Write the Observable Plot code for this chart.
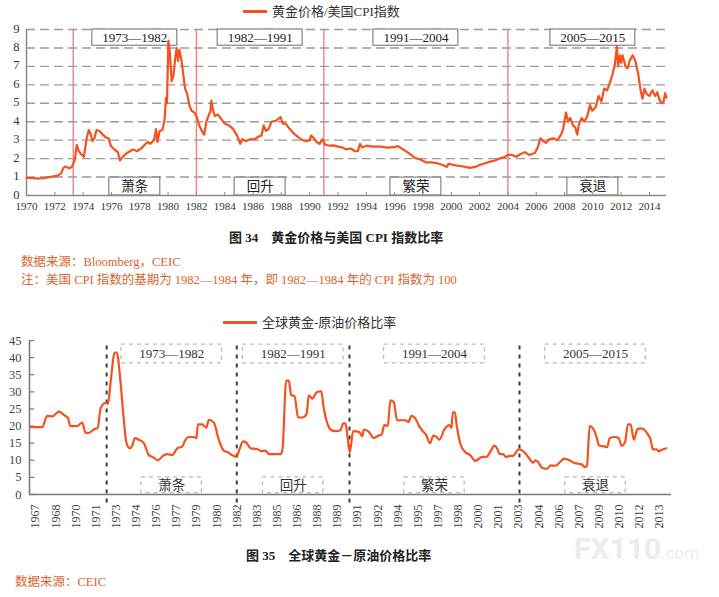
<!DOCTYPE html>
<html><head><meta charset="utf-8">
<script src="https://cdn.jsdelivr.net/npm/d3@7"></script>
<script src="https://cdn.jsdelivr.net/npm/@observablehq/plot@0.6"></script>
<style>
body{margin:0;background:#fff;}
#page{position:relative;width:719px;height:597px;overflow:hidden;font-family:"Liberation Serif",serif;}
.abs{position:absolute;white-space:nowrap;line-height:1;}
.src{color:#d4652f;font-size:12.5px;font-family:"Liberation Serif","Noto Sans CJK SC",serif;}
.cap{color:#222;font-weight:bold;font-size:13px;font-family:"Liberation Serif","Noto Sans CJK SC",serif;}
.leg{display:flex;align-items:center;font-size:13px;color:#333;font-family:"Liberation Serif","Noto Sans CJK SC",serif;}
.leg i{display:inline-block;height:3px;background:#f4511e;margin-right:5px;}
svg{position:absolute;left:0;}
</style></head><body><div id="page"></div>
<script>
// ---- Chart 34: gold price / US CPI ----
const topYears = [1970.0,1970.5,1970.9,1971.3,1971.8,1972.2,1972.45,1972.6,1972.75,1973.0,1973.2,1973.4,1973.55,1973.7,1973.9,1974.05,1974.25,1974.4,1974.55,1974.65,1974.8,1974.95,1975.15,1975.4,1975.6,1975.8,1975.95,1976.2,1976.45,1976.6,1976.75,1977.0,1977.3,1977.55,1977.8,1978.1,1978.35,1978.55,1978.75,1979.0,1979.15,1979.25,1979.4,1979.6,1979.75,1979.85,1979.92,1980.02,1980.12,1980.25,1980.38,1980.5,1980.6,1980.7,1980.8,1980.95,1981.1,1981.2,1981.35,1981.5,1981.65,1981.85,1982.0,1982.2,1982.45,1982.55,1982.7,1982.85,1983.0,1983.05,1983.15,1983.3,1983.5,1983.8,1984.0,1984.3,1984.6,1984.9,1985.1,1985.25,1985.5,1985.8,1986.1,1986.4,1986.6,1986.75,1986.9,1987.1,1987.3,1987.6,1987.95,1988.1,1988.3,1988.6,1988.9,1989.2,1989.5,1989.8,1990.0,1990.1,1990.3,1990.5,1990.7,1990.9,1991.1,1991.4,1991.7,1992.0,1992.3,1992.6,1992.9,1993.2,1993.4,1993.55,1993.7,1994.0,1994.5,1995.0,1995.5,1996.0,1996.2,1996.6,1997.0,1997.4,1997.8,1998.2,1998.6,1999.0,1999.4,1999.7,1999.8,2000.2,2000.6,2001.0,2001.3,2001.7,2002.0,2002.4,2002.8,2003.1,2003.4,2003.8,2004.0,2004.3,2004.6,2004.9,2005.2,2005.5,2005.9,2006.1,2006.3,2006.5,2006.7,2006.9,2007.2,2007.5,2007.75,2007.9,2008.1,2008.25,2008.4,2008.6,2008.75,2008.9,2009.0,2009.2,2009.4,2009.6,2009.8,2009.95,2010.2,2010.4,2010.6,2010.8,2011.0,2011.2,2011.4,2011.55,2011.7,2011.78,2011.9,2012.0,2012.1,2012.3,2012.45,2012.6,2012.8,2013.0,2013.2,2013.35,2013.5,2013.65,2013.8,2014.0,2014.2,2014.4,2014.55,2014.7,2014.85,2015.0,2015.1,2015.2];
const topRatio = [0.95,0.94,0.92,0.96,1.02,1.08,1.2,1.5,1.58,1.48,1.55,1.9,2.75,2.4,2.2,2.1,3.1,3.55,3.3,2.95,3.1,3.55,3.5,3.3,3.15,3.1,2.7,2.5,2.35,1.9,2.05,2.25,2.4,2.5,2.4,2.55,2.75,2.9,2.8,3.0,3.6,2.9,3.5,3.55,4.1,5.3,5.0,8.4,7.8,6.2,6.5,7.4,8.0,7.3,7.9,7.3,6.4,5.8,5.5,4.9,4.6,4.5,4.3,3.8,3.4,3.3,4.0,4.3,4.6,5.15,4.7,4.3,4.4,4.1,3.9,3.8,3.6,3.2,2.8,3.05,2.95,3.05,3.05,3.2,3.25,3.8,3.5,3.6,4.0,4.05,4.25,3.9,3.9,3.6,3.35,3.15,3.0,2.95,3.0,3.25,3.1,2.9,2.8,3.05,2.75,2.7,2.72,2.65,2.6,2.5,2.55,2.4,2.4,2.8,2.6,2.7,2.65,2.65,2.6,2.62,2.68,2.5,2.3,2.05,1.95,1.8,1.8,1.75,1.65,1.55,1.72,1.65,1.6,1.55,1.5,1.55,1.65,1.75,1.85,1.9,2.0,2.1,2.2,2.2,2.1,2.25,2.35,2.2,2.3,2.6,3.1,2.95,2.85,3.05,3.1,3.0,3.3,3.6,4.5,4.0,4.2,3.8,3.7,3.3,3.8,4.2,4.0,4.3,4.9,4.6,4.8,5.4,5.1,5.8,5.7,6.1,6.6,7.1,8.1,7.0,7.6,7.2,7.6,7.0,6.9,7.3,7.6,7.3,6.6,5.8,5.25,5.8,5.5,5.4,5.7,5.4,5.6,5.2,5.0,5.1,5.55,5.3];
const topDividers = [1973.3, 1982, 1991, 2004];
const topXTicks = [1970,1972,1974,1976,1978,1980,1982,1984,1986,1988,1990,1992,1994,1996,1998,2000,2002,2004,2006,2008,2010,2012,2014];
const topYTicks = [0,1,2,3,4,5,6,7,8,9];
const periodLabels = ["1973—1982","1982—1991","1991—2004","2005—2015"];
const phaseLabels = ["萧条","回升","繁荣","衰退"];

// ---- Chart 35: gold / crude oil ----
const oilYears = [1966.63,1967.5,1967.87,1968.24,1968.74,1969.2,1969.4,1969.6,1970.1,1970.48,1970.73,1970.97,1971.35,1971.64,1971.84,1972.2,1972.4,1972.6,1972.9,1973.05,1973.33,1973.53,1973.78,1974.03,1974.2,1974.4,1974.7,1975.07,1975.45,1975.8,1976.1,1976.56,1976.85,1977.18,1977.56,1977.93,1978.18,1978.43,1978.8,1979.0,1979.1,1979.42,1979.72,1979.92,1980.29,1980.66,1981.03,1981.36,1981.65,1981.98,1982.18,1982.47,1982.7,1983.02,1983.52,1983.8,1984.14,1984.39,1985.26,1985.4,1985.68,1985.88,1986.05,1986.3,1986.57,1986.87,1987.2,1987.37,1987.62,1987.94,1988.29,1988.49,1988.73,1988.98,1989.35,1989.73,1989.93,1990.1,1990.22,1990.42,1990.67,1991.1,1991.35,1991.47,1991.85,1992.2,1992.6,1992.8,1993.0,1993.25,1993.45,1993.7,1993.95,1994.55,1994.8,1995.0,1995.25,1995.6,1995.87,1996.1,1996.4,1996.65,1996.9,1997.1,1997.47,1997.85,1998.0,1998.1,1998.25,1998.4,1998.65,1999.0,1999.4,1999.8,2000.05,2000.3,2000.6,2000.9,2001.2,2001.4,2001.6,2001.85,2002.05,2002.4,2002.6,2003.0,2003.4,2003.75,2004.1,2004.25,2004.45,2004.75,2005.1,2005.4,2005.75,2006.1,2006.4,2006.8,2007.1,2007.45,2007.7,2007.95,2008.1,2008.3,2008.6,2008.8,2009.0,2009.45,2009.6,2009.8,2010.2,2010.45,2010.7,2010.95,2011.15,2011.35,2011.6,2011.85,2012.1,2012.35,2012.65,2012.85,2013.0,2013.3,2013.45,2013.65,2014.0];
const oilRatio = [19.7,19.7,23,22.8,24.2,23,22.5,20,20,21,18,18,19,19.5,25,26.8,26.5,33,41.5,41.5,33,24,15,13.5,14.2,16.5,16,15,11.5,10.8,10,11.5,11.8,11.5,13.5,14,16,16.8,16.8,16.5,20.5,20.5,19.5,21.8,21,16,12.8,12.3,11.5,11,13,15.5,15.2,13.5,13.3,12.7,12.8,11.8,11.8,13,33.3,33.3,29,28.8,22.5,22.5,23.5,29,28,29.8,30.2,25,21,19,18.5,18.8,20.8,20.8,18,12.3,18.5,18.3,17,19,18.3,16.5,17.3,17.6,20.3,20,27.5,27,21.7,21.7,21.2,23,22.5,20,18.5,17.5,15,17.2,16.8,16,19,20.3,19.5,24,24,20,15,12.5,11.5,9.8,10.5,11,11,12.5,14.3,13.5,11.8,11.8,11,11.3,11.3,13.2,12.5,10.8,9.3,10,9.5,7.8,7.5,8.5,8.4,9.5,10.5,10,9.3,9,8.8,8,8.5,20,19,17,14.3,14,13.8,16.5,16.8,16.5,14.2,15.5,20.5,20.5,16,19,19.3,19,17.5,16,13.2,13.2,12.6,13,13.5];
const oilDividers = [1972.3, 1982, 1990.4, 2003.07];
const oilTickLabels = ["1967","1968","1970","1971","1973","1974","1976","1977","1979","1980","1982","1983","1985","1986","1988","1989","1991","1992","1994","1995","1997","1998","2000","2001","2003","2004","2006","2007","2009","2010","2012","2013"];
const oilYTicks = [0,5,10,15,20,25,30,35,40,45];

const page = document.getElementById("page");
const LINE = "#f4511e";
const SERIF = "Liberation Serif";
const CJK = "Noto Sans CJK SC";
const mids = b => b.slice(0,-1).map((v,i)=>(v+b[i+1])/2);

// ---------- top chart ----------
const topData = topYears.map((t,i)=>({t, v: topRatio[i]}));
const topX = [1970, 2015.2];
const topCenters = mids([...topDividers, 2016]);
const topChart = Plot.plot({
  width: 719, height: 215,
  marginLeft: 26, marginRight: 53, marginTop: 29, marginBottom: 20,
  style: {fontFamily: SERIF, fontSize: "12px", color: "#333", background: "transparent"},
  x: {domain: topX, label: null},
  y: {domain: [0, 9], label: null},
  marks: [
    Plot.ruleY(topYTicks.filter(d => d > 0), {stroke: "#9c9c9c", strokeWidth: 1.4, strokeDasharray: "9,5"}),
    Plot.rect(periodLabels, {x1: (d,i) => topCenters[i] - 3, x2: (d,i) => topCenters[i] + 3, y1: () => 8.12, y2: () => 9, fill: "white", stroke: "#7a7a7a", strokeWidth: 1.1}),
    Plot.rect(phaseLabels, {x1: (d,i) => topCenters[i] - 1.8, x2: (d,i) => topCenters[i] + 1.8, y1: () => 0, y2: () => 0.97, fill: "white", stroke: "#7a7a7a", strokeWidth: 1.1}),
    Plot.ruleX(topDividers, {stroke: "#f27a7a", strokeWidth: 1.3}),
    Plot.ruleY([0], {stroke: "#8a8a8a", strokeWidth: 1.5}),
    Plot.ruleX([topX[0]], {stroke: "#8a8a8a", strokeWidth: 1.5}),
    Plot.ruleX(topXTicks, {y1: () => 0, y2: () => 0.17, stroke: "#8a8a8a"}),
    Plot.line(topData, {x: "t", y: "v", stroke: LINE, strokeWidth: 2.2, strokeLinejoin: "round"}),
    Plot.text(periodLabels, {x: (d,i) => topCenters[i], y: () => 8.56, text: d => d, fontSize: 13, fill: "#222", fontFamily: SERIF}),
    Plot.text(phaseLabels, {x: (d,i) => topCenters[i], y: () => 0.48, text: d => d, fontSize: 13.5, fill: "#222", fontFamily: CJK}),
    Plot.axisY({ticks: topYTicks, label: null, tickSize: 0, tickPadding: 7, dy: -1, fontSize: 12.5, fontFamily: SERIF, fill: "#333"}),
    Plot.axisX({ticks: topXTicks, label: null, tickSize: 0, tickPadding: 7, tickFormat: d => String(d), fontSize: 11, fontFamily: SERIF, fill: "#333"})
  ]
});
topChart.style.top = "0px";
page.appendChild(topChart);

// ---------- bottom chart ----------
const oilData = oilYears.map((t,i)=>({t, v: oilRatio[i]}));
const oilX = [1966.55, 2014.4];
const oilTicks = oilTickLabels.map((s,i) => 1967 + 1.5 * i);
const oilLabelOf = new Map(oilTicks.map((t,i) => [t, oilTickLabels[i]]));
const oilCenters = mids([...oilDividers, oilX[1]]);
const oilChart = Plot.plot({
  width: 719, height: 210,
  marginLeft: 29, marginRight: 48, marginTop: 10, marginBottom: 46,
  style: {fontFamily: SERIF, fontSize: "12px", color: "#333", background: "transparent"},
  x: {domain: oilX, label: null},
  y: {domain: [0, 45], label: null},
  marks: [
    Plot.rect(periodLabels, {x1: (d,i) => oilCenters[i] - 3.75, x2: (d,i) => oilCenters[i] + 3.75, y1: () => 38.3, y2: () => 43.8, fill: "none", stroke: "#b4bcc0", strokeWidth: 1.3, strokeDasharray: "4,4"}),
    Plot.rect(phaseLabels, {x1: (d,i) => oilCenters[i] - 2.25, x2: (d,i) => oilCenters[i] + 2.25, y1: () => 0.4, y2: () => 5, fill: "none", stroke: "#b4bcc0", strokeWidth: 1.3, strokeDasharray: "4,4"}),
    Plot.ruleX(oilDividers, {y1: () => -2.5, y2: () => 44.3, stroke: "#3a3a3a", strokeWidth: 2, strokeDasharray: "4,5"}),
    Plot.ruleY([0], {stroke: "#7a7a7a", strokeWidth: 1.6}),
    Plot.ruleX([oilX[0]], {y1: () => 0, y2: () => 45, stroke: "#7a7a7a", strokeWidth: 1.6}),
    Plot.ruleY(oilYTicks, {x1: () => oilX[0], x2: () => oilX[0] + 0.4, stroke: "#7a7a7a", strokeWidth: 1.2}),
    Plot.line(oilData, {x: "t", y: "v", stroke: LINE, strokeWidth: 2.2, curve: "monotone-x", strokeLinejoin: "round"}),
    Plot.text(periodLabels, {x: (d,i) => oilCenters[i], y: () => 41.05, text: d => d, fontSize: 13, fill: "#333", fontFamily: SERIF}),
    Plot.text(phaseLabels, {x: (d,i) => oilCenters[i], y: () => 2.7, text: d => d, fontSize: 13.5, fill: "#333", fontFamily: CJK}),
    Plot.axisY({ticks: oilYTicks, label: null, tickSize: 0, tickPadding: 8, fontSize: 12.5, fontFamily: SERIF, fill: "#444"}),
    Plot.axisX({ticks: oilTicks, label: null, tickSize: 0, tickPadding: 10, tickRotate: -90, tickFormat: d => oilLabelOf.get(d), fontSize: 12, fontFamily: SERIF, fill: "#444"})
  ]
});
oilChart.style.top = "330px";
page.appendChild(oilChart);

// ---------- html text ----------
function add(html, cls, left, top, extra) {
  const d = document.createElement("div");
  d.className = "abs " + cls;
  d.style.left = left + "px"; d.style.top = top + "px";
  if (extra) Object.assign(d.style, extra);
  d.innerHTML = html;
  page.appendChild(d);
  return d;
}
add('<i style="width:24px"></i>黄金价格/美国CPI指数', "leg", 243, 5);
add('图 34　黄金价格与美国 CPI 指数比率', "cap", 229, 231);
add('数据来源：Bloomberg，CEIC', "src", 21, 256);
add('注：美国 CPI 指数的基期为 1982—1984 年，即 1982—1984 年的 CPI 指数为 100', "src", 21, 274);
add('<i style="width:34px"></i>全球黄金-原油价格比率', "leg", 223, 316);
add('图 35　全球黄金－原油价格比率', "cap", 246, 549);
add('数据来源：CEIC', "src", 15, 576);
add('FX110<span style="font-size:17px;font-weight:normal">.com</span>', "", 574, 534, {fontFamily:"Roboto,sans-serif", fontWeight:"bold", fontSize:"30px", color:"#ececec"});
</script></body></html>
